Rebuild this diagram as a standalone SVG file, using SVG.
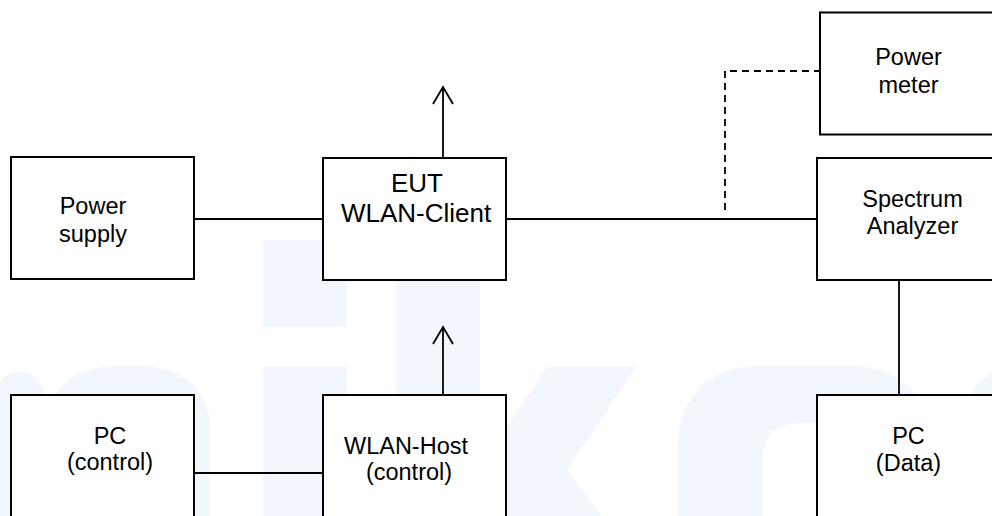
<svg xmlns="http://www.w3.org/2000/svg" width="992" height="516" viewBox="0 0 992 516">
  <defs>
    <style>
      .box { fill: #ffffff; stroke: #000000; stroke-width: 2; }
      .line { fill: none; stroke: #000000; stroke-width: 1.8; }
      .dash { fill: none; stroke: #000000; stroke-width: 1.8; stroke-dasharray: 7 5; }
      .wm { fill: #f2f7fe; stroke: none; }
      .t { font-family: "Liberation Sans", Arial, sans-serif; font-size: 23.5px; fill: #000000; text-anchor: middle; }
      .tl { font-family: "Liberation Sans", Arial, sans-serif; font-size: 26px; fill: #000000; text-anchor: middle; }
    </style>
    <marker id="open" viewBox="0 0 20 24" refX="18" refY="12" markerWidth="20" markerHeight="24" markerUnits="userSpaceOnUse" orient="auto">
      <path d="M1,2 L18,12 L1,22" fill="none" stroke="#000000" stroke-width="1.8"/>
    </marker>
  </defs>
  <rect x="0" y="0" width="992" height="516" fill="#ffffff"/>

  <!-- watermark -->
  <g id="watermark">
    <path class="wm" d="M-10,530 L-10,400 Q0,372 20,372 Q38,372 45,395 L45,530 Z"/>
    <path class="wm" d="M50,530 L50,410 Q60,365 130,365 Q200,365 210,420 L210,530 Z"/>
    <rect class="wm" x="263" y="240" width="84" height="87"/>
    <rect class="wm" x="263" y="367" width="84" height="163"/>
    <rect class="wm" x="396" y="240" width="84" height="290"/>
    <polygon class="wm" points="547,367 636,367 567,470 612,530 480,530 480,467"/>
    <path class="wm" d="M677,530 L677,455 Q677,365 770,365 L840,365 Q915,365 925,420 L925,530 Z"/>
    <path fill="#ffffff" d="M763,530 L763,460 Q763,423 800,423 L830,423 L830,530 Z"/>
    <path class="wm" d="M966,410 Q972,380 992,374 L1000,374 L1000,410 Z"/>
  </g>

  <g id="connectors">
    <line class="line" x1="194" y1="219" x2="323" y2="219"/>
    <line class="line" x1="506" y1="219" x2="817" y2="219"/>
    <polyline class="dash" points="725,210 725,71 820,71"/>
    <line class="line" x1="443" y1="158" x2="443" y2="87" marker-end="url(#open)"/>
    <line class="line" x1="443" y1="395" x2="443" y2="327" marker-end="url(#open)"/>
    <line class="line" x1="194" y1="473" x2="323" y2="473"/>
    <line class="line" x1="899" y1="280" x2="899" y2="395"/>
  </g>

  <g id="power-supply">
    <rect class="box" x="11" y="157" width="183" height="122"/>
    <text class="t" x="93" y="214">Power</text>
    <text class="t" x="93" y="242">supply</text>
  </g>

  <g id="eut">
    <rect class="box" x="323" y="158" width="183" height="122"/>
    <text class="tl" x="417" y="191.5">EUT</text>
    <text class="tl" x="416" y="221.5">WLAN-Client</text>
  </g>

  <g id="power-meter">
    <rect class="box" x="820" y="12.5" width="200" height="122"/>
    <text class="t" x="908.5" y="65">Power</text>
    <text class="t" x="908.5" y="92.5">meter</text>
  </g>

  <g id="spectrum-analyzer">
    <rect class="box" x="817" y="158" width="200" height="122"/>
    <text class="t" x="912.5" y="206.5">Spectrum</text>
    <text class="t" x="912.5" y="233.5">Analyzer</text>
  </g>

  <g id="pc-control">
    <rect class="box" x="11" y="395" width="183" height="140"/>
    <text class="t" x="110" y="444">PC</text>
    <text class="t" x="110" y="469.5">(control)</text>
  </g>

  <g id="wlan-host">
    <rect class="box" x="323" y="395" width="183" height="140"/>
    <text class="t" x="406" y="454">WLAN-Host</text>
    <text class="t" x="409" y="480">(control)</text>
  </g>

  <g id="pc-data">
    <rect class="box" x="817" y="395" width="200" height="140"/>
    <text class="t" x="908.5" y="443.5">PC</text>
    <text class="t" x="908.5" y="471">(Data)</text>
  </g>
</svg>
